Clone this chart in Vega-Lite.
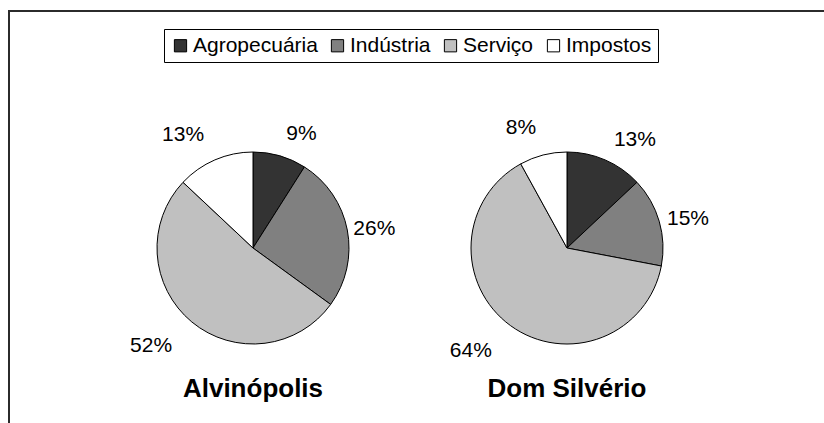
{
  "$schema": "https://vega.github.io/schema/vega-lite/v6.json",
  "width": 824,
  "height": 423,
  "autosize": {"type": "fit", "contains": "padding"},
  "padding": {"left": 9, "top": 11, "right": -3, "bottom": -3},
  "background": "white",
  "config": {
    "view": {"stroke": "#2b2b2b", "strokeWidth": 2},
    "font": "Liberation Sans",
    "text": {"font": "Liberation Sans"}
  },
  "data": {
    "values": [
      {"cidade": "Alvinópolis", "setor": "Agropecuária", "ordem": 1, "valor": 0.09},
      {"cidade": "Alvinópolis", "setor": "Indústria", "ordem": 2, "valor": 0.26},
      {"cidade": "Alvinópolis", "setor": "Serviço", "ordem": 3, "valor": 0.52},
      {"cidade": "Alvinópolis", "setor": "Impostos", "ordem": 4, "valor": 0.13},
      {"cidade": "Dom Silvério", "setor": "Agropecuária", "ordem": 1, "valor": 0.13},
      {"cidade": "Dom Silvério", "setor": "Indústria", "ordem": 2, "valor": 0.15},
      {"cidade": "Dom Silvério", "setor": "Serviço", "ordem": 3, "valor": 0.64},
      {"cidade": "Dom Silvério", "setor": "Impostos", "ordem": 4, "valor": 0.08}
    ]
  },
  "encoding": {
    "x": {"field": "cidade", "type": "nominal", "scale": {"type": "point", "domain": ["Alvinópolis", "Dom Silvério"], "range": [244, 558], "padding": 0}, "axis": null}
  },
  "layer": [
    {
      "transform": [{"filter": "datum.cidade == 'Alvinópolis'"}],
      "mark": {"type": "arc", "outerRadius": 96, "stroke": "black", "strokeWidth": 1},
      "encoding": {
        "y": {"datum": 237, "type": "quantitative", "scale": {"domain": [0, 415], "reverse": true, "nice": false, "zero": false}, "axis": null},
        "theta": {"field": "valor", "type": "quantitative", "stack": true, "scale": {"domain": [0, 1]}},
        "order": {"field": "ordem", "type": "quantitative"},
        "color": {
          "field": "setor", "type": "nominal",
          "scale": {"domain": ["Agropecuária", "Indústria", "Serviço", "Impostos"], "range": ["#333333", "#808080", "#c0c0c0", "#ffffff"]},
          "legend": {
            "title": null, "orient": "none", "legendX": 155, "legendY": 18, "direction": "horizontal",
            "strokeColor": "black", "padding": 6, "fillColor": "white",
            "symbolType": "square", "symbolSize": 150, "symbolStrokeColor": "black", "symbolStrokeWidth": 1, "symbolOpacity": 1,
            "labelFont": "Liberation Sans", "labelFontSize": 21, "labelColor": "black", "labelOffset": 2, "columnPadding": 9
          }
        }
      }
    },
    {
      "transform": [{"filter": "datum.cidade == 'Dom Silvério'"}],
      "mark": {"type": "arc", "outerRadius": 96, "stroke": "black", "strokeWidth": 1},
      "encoding": {
        "y": {"datum": 237, "type": "quantitative", "axis": null},
        "theta": {"field": "valor", "type": "quantitative", "stack": true},
        "order": {"field": "ordem", "type": "quantitative"},
        "color": {"field": "setor", "type": "nominal"}
      }
    },
    {
      "transform": [{"filter": "datum.cidade == 'Alvinópolis'"}],
      "mark": {
        "type": "text", "fontSize": 21, "color": "black", "baseline": "middle",
        "radius": {"expr": "98 + 22*abs(cos(PI*(datum.valor_start+datum.valor_end))) + (datum.valor_start+datum.valor_end > 1 ? 5 : 0) + (cos(PI*(datum.valor_start+datum.valor_end)) < 0 ? 7 : 0)"},
        "align": {"expr": "datum.valor_start+datum.valor_end > 1 ? 'right' : 'left'"}
      },
      "encoding": {
        "y": {"datum": 237, "type": "quantitative", "axis": null},
        "theta": {"field": "valor", "type": "quantitative", "stack": true},
        "order": {"field": "ordem", "type": "quantitative"},
        "text": {"field": "valor", "type": "quantitative", "format": ".0%"}
      }
    },
    {
      "transform": [{"filter": "datum.cidade == 'Dom Silvério'"}],
      "mark": {
        "type": "text", "fontSize": 21, "color": "black", "baseline": "middle",
        "radius": {"expr": "98 + 22*abs(cos(PI*(datum.valor_start+datum.valor_end))) + (datum.valor_start+datum.valor_end > 1 ? 5 : 0) + (cos(PI*(datum.valor_start+datum.valor_end)) < 0 ? 7 : 0)"},
        "align": {"expr": "datum.valor_start+datum.valor_end > 1 ? 'right' : 'left'"}
      },
      "encoding": {
        "y": {"datum": 237, "type": "quantitative", "axis": null},
        "theta": {"field": "valor", "type": "quantitative", "stack": true},
        "order": {"field": "ordem", "type": "quantitative"},
        "text": {"field": "valor", "type": "quantitative", "format": ".0%"}
      }
    },
    {
      "transform": [{"filter": "datum.ordem == 1"}],
      "mark": {"type": "text", "fontSize": 26, "fontWeight": "bold", "color": "black", "align": "center", "baseline": "alphabetic"},
      "encoding": {
        "y": {"datum": 386, "type": "quantitative", "axis": null},
        "text": {"field": "cidade", "type": "nominal"}
      }
    }
  ]
}
